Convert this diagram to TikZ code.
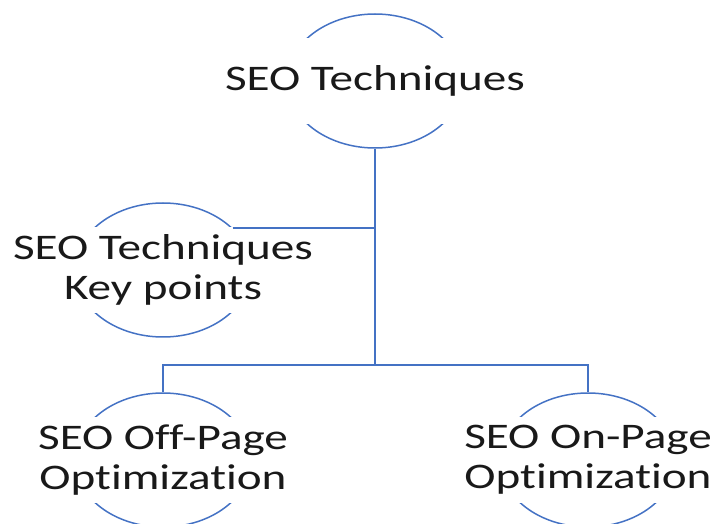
\documentclass[tikz,border=0pt]{standalone}
\usepackage{fontspec}
\setmainfont{Carlito}[Ligatures=NoCommon]
\usepackage{xcolor}
\usepackage{tikz}
\usetikzlibrary{shapes.geometric, positioning}

\definecolor{seoblue}{HTML}{4472C4}

\begin{document}
\begin{tikzpicture}[
    x=1pt, y=1pt,
    bubble/.style={ellipse, draw=seoblue, line width=1.5pt, minimum width=176pt, minimum height=134pt, inner sep=0pt},
    label/.style={fill=white, inner sep=0pt, minimum height=86pt, align=center, text=black!90, font=\fontsize{36}{40}\selectfont, xscale=1.31, transform shape},
    link/.style={draw=seoblue, line width=1.5pt}
]
\useasboundingbox (0,0) rectangle (713,523);

\node[bubble] (top) at (375,442) {};
\node[bubble] (key) at (163,253) {};
\node[bubble] (off) at (163,63) {};
\node[bubble] (on) at (588,63) {};

\node[label] (toptext) at (top.center) {SEO Techniques};
\node[label] (keytext) at (key.center) {SEO Techniques\\Key points};
\node[label] (offtext) at (off.center) {SEO Off-Page\\Optimization};
\node[label] (ontext) at (on.center) {SEO On-Page\\Optimization};

\coordinate (split) at (375,158);

\draw[link] (top.south) -- (split);
\draw[link] (key.31.5) -- (key.31.5 -| split);
\draw[link] (off.north) |- (split) -| (on.north);

\end{tikzpicture}
\end{document}
